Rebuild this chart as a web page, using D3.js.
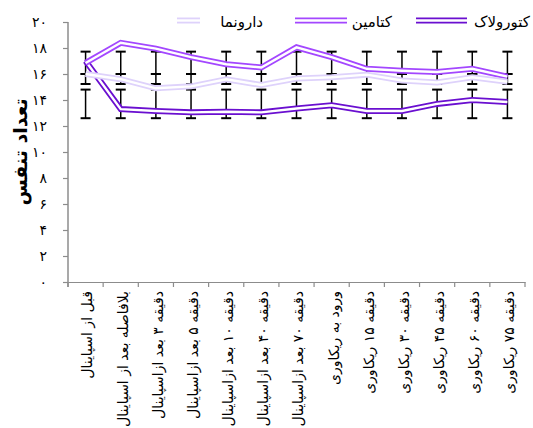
<!DOCTYPE html>
<html>
<head>
<meta charset="utf-8">
<script src="https://cdn.jsdelivr.net/npm/d3@7"></script>
<style>
  body { margin: 0; background: #fff; }
  text { font-family: "DejaVu Sans", sans-serif; }
</style>
</head>
<body>
<div id="chart"></div>
<script>
/* CONSTANTS AND GLOBALS */
const width = 533,
  height = 428,
  margin = { top: 22, bottom: 146, left: 68, right: 8 };

/* DATA */
const categories = [
  "قبل از اسپاینال",
  "بلافاصله بعد از اسپاینال",
  "دقیقه ۳ بعد ازاسپاینال",
  "دقیقه ۵ بعد ازاسپاینال",
  "دقیقه ۱۰ بعد ازاسپاینال",
  "دقیقه ۴۰ بعد ازاسپاینال",
  "دقیقه ۷۰ بعد ازاسپاینال",
  "ورود به ریکاوری",
  "دقیقه ۱۵ ریکاوری",
  "دقیقه ۳۰ ریکاوری",
  "دقیقه ۴۵ ریکاوری",
  "دقیقه ۶۰ ریکاوری",
  "دقیقه ۷۵ ریکاوری"
];

const ketorolac = [17.0, 13.3, 13.15, 13.05, 13.1, 13.05, 13.35, 13.6, 13.15, 13.15, 13.7, 14.0, 13.85];
const ketamine = [16.85, 18.4, 17.95, 17.3, 16.75, 16.5, 18.05, 17.3, 16.4, 16.25, 16.15, 16.4, 15.8];
const placebo = [16.0, 15.6, 14.9, 15.05, 15.6, 15.15, 15.65, 15.75, 15.95, 15.5, 15.35, 15.75, 15.4];

// error bars (same at every point of a series)
const errLow = [12.6, 16.0, 15.23];
const errHigh = [14.8, 17.72, 16.0];

const seriesNames = ["کتورولاک", "کتامین", "دارونما"];
const seriesColors = ["#6a0fd0", "#a347ff", "#ded2fb"];

const yTicks = [0, 2, 4, 6, 8, 10, 12, 14, 16, 18, 20];
const yTitle = "تعداد تنفس";

const series = [ketorolac, ketamine, placebo].map((values, i) => ({
  name: seriesNames[i],
  color: seriesColors[i],
  lo: errLow[i],
  hi: errHigh[i],
  values: values
}));

// persian digits for the tick labels
const fa = n => String(n).replace(/\d/g, d => "۰۱۲۳۴۵۶۷۸۹"[d]);

/* SVG */
const svg = d3
  .select("#chart")
  .append("svg")
  .attr("width", width)
  .attr("height", height);

/* SCALES */
const xScale = d3
  .scaleBand()
  .domain(categories)
  .range([margin.left, width - margin.right])
  .padding(0);

const yScale = d3
  .scaleLinear()
  .domain([0, 20])
  .range([height - margin.bottom, margin.top]);

const cx = d => xScale(d) + xScale.bandwidth() / 2;

/* AXES */
const yAxis = d3
  .axisLeft(yScale)
  .tickValues(yTicks)
  .tickSize(5)
  .tickPadding(16)
  .tickFormat(fa);

const yG = svg
  .append("g")
  .attr("transform", `translate(${margin.left},0)`)
  .call(yAxis);
yG.select(".domain").attr("stroke", "#8c8c8c").attr("stroke-width", 1.5)
  .attr("d", `M0,${yScale(20)}V${yScale(0) + 5}`);
yG.selectAll(".tick line").attr("stroke", "#8c8c8c").attr("stroke-width", 1.2);
yG.selectAll(".tick text").attr("font-size", 14).attr("fill", "#000");

const xAxis = d3.axisBottom(xScale).tickSize(0).tickPadding(0);
const xG = svg
  .append("g")
  .attr("transform", `translate(0,${yScale(0)})`)
  .call(xAxis);
xG.select(".domain").attr("stroke", "#8c8c8c").attr("stroke-width", 1.2);
xG.selectAll(".tick text")
  .attr("font-size", 14)
  .attr("fill", "#000")
  .attr("transform", "rotate(-90)")
  .attr("text-anchor", "end")
  .attr("x", -9)
  .attr("y", 2)
  .attr("dy", "0.35em");

// tick marks on the category boundaries
xG.selectAll(".bound")
  .data(categories.concat(["_end"]))
  .join("line")
  .attr("class", "bound")
  .attr("x1", (d, i) => margin.left + i * xScale.bandwidth())
  .attr("x2", (d, i) => margin.left + i * xScale.bandwidth())
  .attr("y1", 0)
  .attr("y2", 5)
  .attr("stroke", "#8c8c8c")
  .attr("stroke-width", 1.2);

svg
  .append("text")
  .attr("transform", `translate(20,${(yScale(0) + yScale(20)) / 2}) rotate(-90)`)
  .attr("text-anchor", "middle")
  .attr("dy", "0.35em")
  .attr("font-size", 19)
  .attr("font-weight", "bold")
  .text(yTitle);

/* ERROR BARS */
const bars = svg.append("g").attr("class", "err");
series.forEach(s => {
  const g = bars.selectAll(null).data(categories).join("g");
  g.append("line")
    .attr("x1", cx).attr("x2", cx)
    .attr("y1", yScale(s.lo)).attr("y2", yScale(s.hi))
    .attr("stroke", "#000").attr("stroke-width", 1.5);
  [s.lo, s.hi].forEach(v => {
    g.append("line")
      .attr("x1", d => cx(d) - 5).attr("x2", d => cx(d) + 5)
      .attr("y1", yScale(v)).attr("y2", yScale(v))
      .attr("stroke", "#000").attr("stroke-width", 2);
  });
});

/* LINES (double line style) */
const line = d3
  .line()
  .x((d, i) => cx(categories[i]))
  .y(d => yScale(d));

series.forEach(s => {
  svg.append("path")
    .attr("d", line(s.values))
    .attr("fill", "none")
    .attr("stroke", s.color)
    .attr("stroke-width", 6)
    .attr("stroke-linejoin", "miter");
  svg.append("path")
    .attr("d", line(s.values))
    .attr("fill", "none")
    .attr("stroke", "#fff")
    .attr("stroke-width", 2.4)
    .attr("stroke-linejoin", "miter");
});

/* LEGEND */
const legendPos = [
  { textRight: 530, x1: 416, x2: 467 },
  { textRight: 392, x1: 295, x2: 347 },
  { textRight: 263, x1: 177, x2: 200 }
];
const legend = svg.append("g").attr("class", "legend");
series.forEach((s, i) => {
  const p = legendPos[i];
  legend.append("line")
    .attr("x1", p.x1).attr("x2", p.x2).attr("y1", 20.5).attr("y2", 20.5)
    .attr("stroke", s.color).attr("stroke-width", 6);
  legend.append("line")
    .attr("x1", p.x1).attr("x2", p.x2).attr("y1", 20.5).attr("y2", 20.5)
    .attr("stroke", "#fff").attr("stroke-width", 2.4);
  legend.append("text")
    .attr("x", p.textRight)
    .attr("y", 27)
    .attr("text-anchor", "end")
    .attr("font-size", 15)
    .text(s.name);
});
</script>
</body>
</html>
